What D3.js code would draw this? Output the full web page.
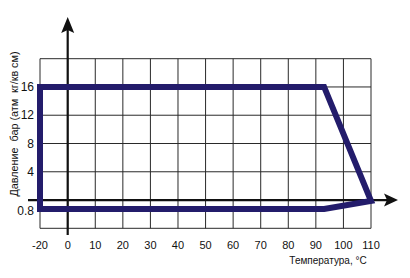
<!DOCTYPE html>
<html>
<head>
    <meta charset="utf-8">
    <title>Давление / температура</title>
    <script src="https://cdnjs.cloudflare.com/ajax/libs/d3/7.8.5/d3.min.js"></script>
    <style>
        body { margin: 0; background: #fff; }
        text { font-family: "Liberation Sans", Arial, sans-serif; fill: #111; }
    </style>
</head>
<body>
    <div id="chart"></div>
    <script>
        // grid / tick values
        const xTicks = [-20, 0, 10, 20, 30, 40, 50, 60, 70, 80, 90, 100, 110];
        const yGrid = [-4, 0, 4, 8, 12, 16, 20];
        const yTicks = [0.8, 4, 8, 12, 16];

        // working envelope (temperature, pressure)
        const envT = [-20, -20, 93, 110, 93, -20];
        const envP = [0.8, 16, 16, 1.5, 0.8, 0.8];

        const width = 410, height = 278;
        const svg = d3.select("#chart").append("svg")
            .attr("width", width)
            .attr("height", height);

        // first column (-20..0) is squeezed to one cell
        const x = d3.scaleLinear().domain([-20, 0, 110]).range([40, 67.7, 371]);
        const gy = d3.scaleLinear().domain([-4, 20]).range([228.3, 58.7]);
        // 0.8 line is drawn below the axis, schematic
        const y = d3.scaleLinear().domain([0.8, 4, 20]).range([209, gy(4), gy(20)]);

        const grid = svg.append("g").attr("stroke", "#2a2a2a").attr("stroke-width", 1);
        grid.selectAll("line.v").data(xTicks).join("line")
            .attr("class", "v")
            .attr("x1", d => x(d)).attr("x2", d => x(d))
            .attr("y1", gy(20)).attr("y2", gy(-4));
        grid.selectAll("line.h").data(yGrid).join("line")
            .attr("class", "h")
            .attr("x1", x(-20)).attr("x2", x(110))
            .attr("y1", d => gy(d)).attr("y2", d => gy(d));

        // axes with arrows
        const ax = svg.append("g").attr("stroke", "#111").attr("stroke-width", 2.2);
        ax.append("line").attr("x1", 28).attr("x2", 388).attr("y1", gy(0)).attr("y2", gy(0));
        ax.append("line").attr("x1", x(0)).attr("x2", x(0)).attr("y1", 235).attr("y2", 30);
        svg.append("path")
            .attr("d", `M398,${gy(0)} L384,${gy(0) - 6.5} L387,${gy(0)} L384,${gy(0) + 6.5} Z`)
            .attr("fill", "#111");
        svg.append("path")
            .attr("d", `M${x(0)},17 L${x(0) - 6.5},33 L${x(0)},30 L${x(0) + 6.5},33 Z`)
            .attr("fill", "#111");

        // envelope
        const pts = envT.map((t, i) => [x(t), y(envP[i])]);
        svg.append("path")
            .attr("d", d3.line()(pts) + "Z")
            .attr("fill", "none")
            .attr("stroke", "#231c6b")
            .attr("stroke-width", 6)
            .attr("stroke-linejoin", "miter");

        // tick labels
        svg.selectAll("text.xt").data(xTicks).join("text")
            .attr("class", "xt")
            .attr("x", d => x(d))
            .attr("y", 249)
            .attr("text-anchor", "middle")
            .attr("font-size", 11)
            .text(d => d);
        svg.selectAll("text.yt").data(yTicks).join("text")
            .attr("class", "yt")
            .attr("x", 34)
            .attr("y", d => y(d) + (d === 0.8 ? 6 : 4))
            .attr("text-anchor", "end")
            .attr("font-size", 12)
            .text(d => d);

        svg.append("text")
            .attr("x", 328).attr("y", 264)
            .attr("text-anchor", "middle")
            .attr("font-size", 10)
            .text("Температура, °C");
        svg.append("text")
            .attr("transform", "translate(17.5,124) rotate(-90)")
            .attr("text-anchor", "middle")
            .attr("font-size", 11)
            .attr("textLength", 145)
            .attr("lengthAdjust", "spacingAndGlyphs")
            .attr("xml:space", "preserve")
            .text("Давление  бар (атм  кг/кв см)");
    </script>
</body>
</html>
